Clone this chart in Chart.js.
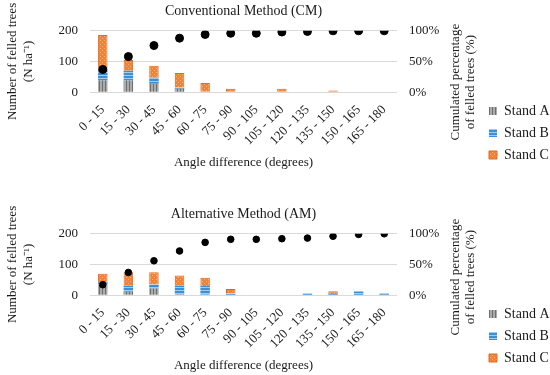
<!DOCTYPE html>
<html>
<head>
<meta charset="utf-8">
<script src="https://cdn.jsdelivr.net/npm/chart.js@4.4.0/dist/chart.umd.min.js"></script>
<style>
body { margin: 0; background: #fff; width: 550px; height: 375px; overflow: hidden; }
.caja { position: absolute; left: 0; width: 550px; }
#cajaCM { top: 0; height: 180px; }
#cajaAM { top: 203px; height: 172px; }
</style>
</head>
<body>
<div class="caja" id="cajaCM"><canvas id="graficoCM"></canvas></div>
<div class="caja" id="cajaAM"><canvas id="graficoAM"></canvas></div>
<script>
const categorias = ['0 - 15', '15 - 30', '30 - 45', '45 - 60', '60 - 75', '75 - 90',
    '90 - 105', '105 - 120', '120 - 135', '135 - 150', '150 - 165', '165 - 180'];

// Conventional Method (N ha-1)
const cmStandA = [38, 38, 27, 11, 0, 0, 0, 0, 0, 0, 0, 0];
const cmStandB = [38, 32, 20, 5, 0, 0, 0, 0, 0, 0, 0, 0];
const cmStandC = [110, 35, 39, 46, 30, 11, 0, 11, 0, 5, 0, 0];
const cmAcumulado = [37, 58, 76, 88, 94, 96, 96, 98, 99, 100, 100, 100];

// Alternative Method (N ha-1)
const amStandA = [33, 11, 22, 3, 2, 0, 0, 0, 0, 0, 0, 0];
const amStandB = [9, 20, 13, 28, 28, 5, 0, 0, 6, 4, 12, 6];
const amStandC = [28, 44, 40, 33, 27, 15, 0, 0, 0, 9, 0, 0];
const amAcumulado = [17, 37, 56, 72, 86, 91, 91, 92, 93, 96, 99, 100];

const ticksIzq = [0, 100, 200];
const ticksDer = [0, 50, 100];

const fuente = 'Liberation Serif';
const colorTexto = '#1a1a1a';

function patron(ancho, alto, fondo, dibujar) {
    const c = document.createElement('canvas');
    c.width = ancho; c.height = alto;
    const g = c.getContext('2d');
    g.fillStyle = fondo;
    g.fillRect(0, 0, ancho, alto);
    dibujar(g);
    return g.createPattern(c, 'repeat');
}

const rellenoA = patron(3, 3, '#ababab', g => { g.fillStyle = '#6f6f6f'; g.fillRect(0, 0, 1, 3); });
const rellenoB = patron(3, 3, '#3a8fd6', g => { g.fillStyle = '#9fcbef'; g.fillRect(0, 0, 3, 1); });
const rellenoC = patron(4, 4, '#ef8438', g => {
    g.fillStyle = '#f7b27d';
    g.fillRect(0, 0, 1, 1);
    g.fillRect(2, 2, 1, 1);
});

// la leyenda ocupa un ancho fijo a la derecha
const anchoLeyenda = {
    id: 'anchoLeyenda',
    beforeLayout(chart) {
        const ley = chart.legend;
        if (ley && !ley._ajustado) {
            const fit = ley.fit;
            ley.fit = function () { fit.call(this); this.width = 69; };
            ley._ajustado = true;
        }
    }
};

// título del eje derecho, girado como en Excel (de abajo hacia arriba)
const tituloDerecho = {
    id: 'tituloDerecho',
    afterDraw(chart, args, opts) {
        const g = chart.ctx;
        g.save();
        g.fillStyle = colorTexto;
        g.font = '13px "' + fuente + '"';
        g.textAlign = 'center';
        g.textBaseline = 'middle';
        g.translate(opts.x, chart.chartArea.bottom - opts.subir);
        g.rotate(-Math.PI / 2);
        opts.lineas.forEach((t, i) => g.fillText(t, 0, i * 15));
        g.restore();
    }
};

function crearGrafico(id, titulo, standA, standB, standC, acumulado, radio, padAbajo, subir) {
    const ctx = document.getElementById(id).getContext('2d');
    const barra = { barPercentage: 0.37, categoryPercentage: 1, yAxisID: 'y', order: 1 };
    return new Chart(ctx, {
        type: 'bar',
        plugins: [anchoLeyenda, tituloDerecho],
        data: {
            labels: categorias,
            datasets: [
                { label: 'Stand A', data: standA, backgroundColor: rellenoA, borderWidth: 0, ...barra },
                { label: 'Stand B', data: standB, backgroundColor: rellenoB, borderWidth: 0, ...barra },
                { label: 'Stand C', data: standC, backgroundColor: rellenoC, borderColor: '#e2691c', borderWidth: 1, ...barra },
                {
                    type: 'line', label: 'Cumulated', data: acumulado, yAxisID: 'y1', order: 0,
                    showLine: false, pointRadius: radio, pointHoverRadius: radio,
                    pointBackgroundColor: '#000', pointBorderColor: '#000', borderColor: '#000'
                }
            ]
        },
        options: {
            responsive: true,
            maintainAspectRatio: false,
            animation: false,
            layout: { padding: { top: 0, bottom: padAbajo, left: 0, right: 0 } },
            plugins: {
                tooltip: { enabled: false },
                tituloDerecho: { x: 456, subir: subir, lineas: ['Cumulated percentage', 'of felled trees (%)'] },
                title: {
                    display: true, text: titulo, fullSize: false, color: colorTexto,
                    font: { family: fuente, size: 14, weight: 'normal' },
                    padding: { top: 3, bottom: 11 }
                },
                legend: {
                    position: 'right', align: 'end',
                    labels: {
                        boxWidth: 8, boxHeight: 8, padding: 8, color: colorTexto,
                        font: { family: fuente, size: 14 },
                        filter: item => item.datasetIndex < 3
                    }
                }
            },
            scales: {
                x: {
                    stacked: true,
                    grid: { display: false },
                    border: { display: false },
                    ticks: {
                        maxRotation: 45, minRotation: 45, autoSkip: false, padding: 2,
                        color: colorTexto, font: { family: fuente, size: 13 }
                    },
                    title: {
                        display: true, text: 'Angle difference (degrees)', color: colorTexto,
                        font: { family: fuente, size: 13 }, padding: { top: 4, bottom: 0 }
                    }
                },
                y: {
                    stacked: true, min: 0, max: 200,
                    afterBuildTicks: eje => { eje.ticks = ticksIzq.map(v => ({ value: v })); },
                    afterFit: eje => { eje.width = 90; },
                    grid: { color: '#d9d9d9', drawTicks: false },
                    border: { display: false },
                    ticks: { padding: 12, color: colorTexto, font: { family: fuente, size: 13 } },
                    title: {
                        display: true, text: ['Number of felled trees', '(N ha⁻¹)'], color: colorTexto,
                        font: { family: fuente, size: 13 }, padding: { top: 5, bottom: 4 }
                    }
                },
                y1: {
                    position: 'right', min: 0, max: 100,
                    afterBuildTicks: eje => { eje.ticks = ticksDer.map(v => ({ value: v })); },
                    afterFit: eje => { eje.width = 84; },
                    grid: { display: false, drawTicks: false },
                    border: { display: false },
                    ticks: {
                        padding: 12, color: colorTexto, font: { family: fuente, size: 13 },
                        callback: v => v + '%'
                    }
                }
            }
        }
    });
}

crearGrafico('graficoCM', 'Conventional Method (CM)', cmStandA, cmStandB, cmStandC, cmAcumulado, 4, 10, 10);
crearGrafico('graficoAM', 'Alternative Method (AM)', amStandA, amStandB, amStandC, amAcumulado, 3.3, 2, 18);
</script>
</body>
</html>
